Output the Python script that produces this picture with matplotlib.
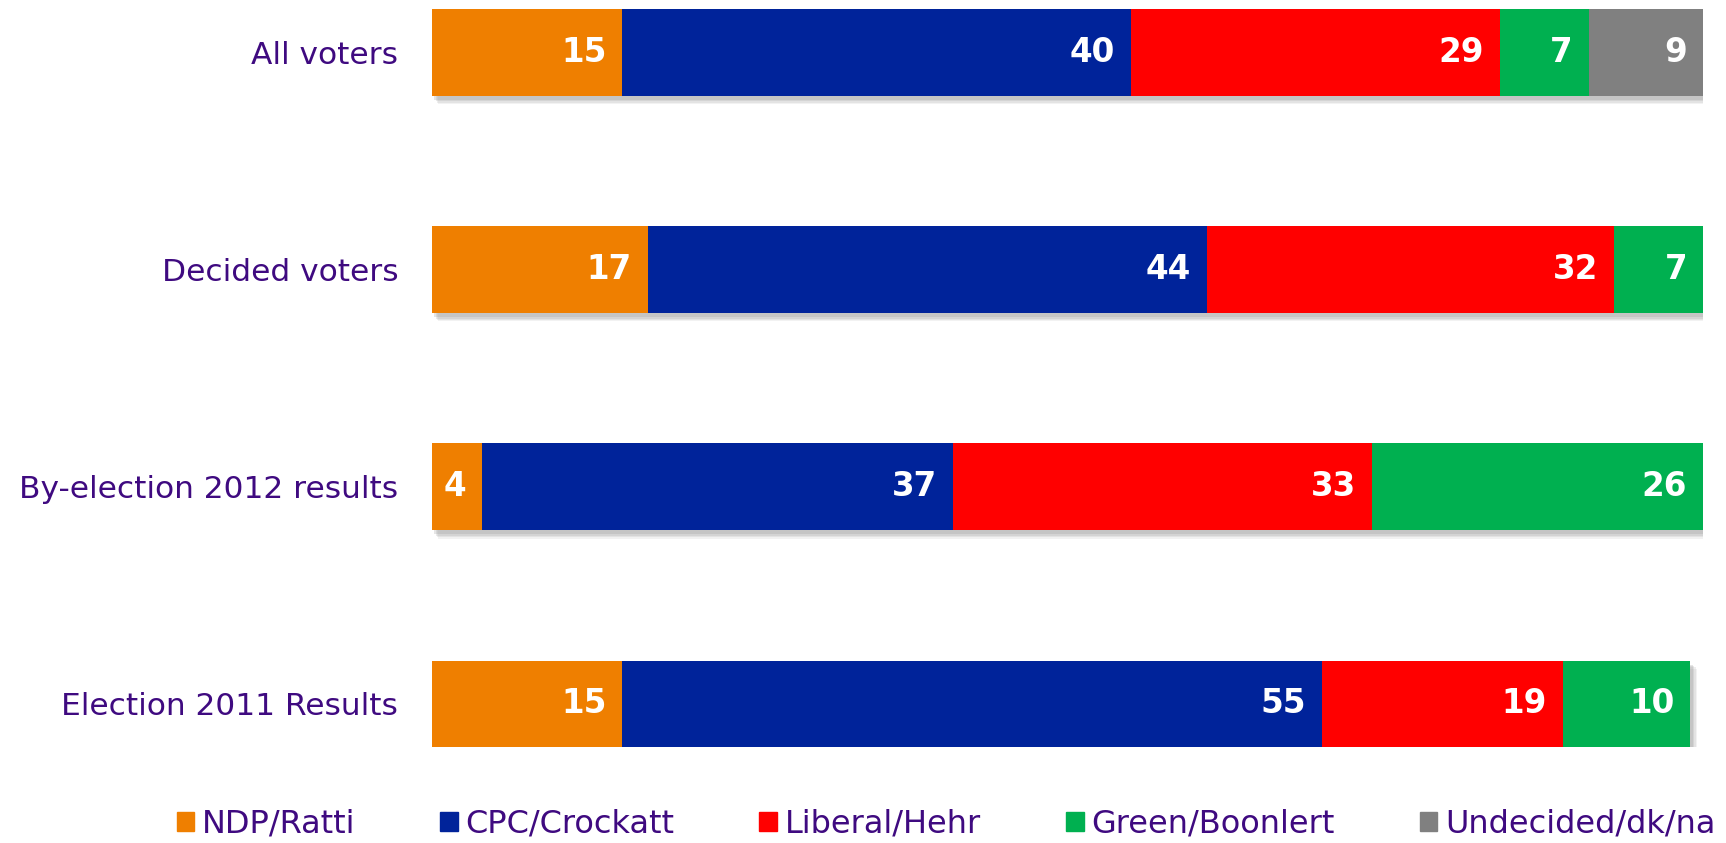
import matplotlib.pyplot as plt
import matplotlib.patheffects as pe
from matplotlib.patches import Rectangle
import numpy as np

plt.rcParams['font.family'] = ['DejaVu Sans']

# rows, top to bottom
groups = ['All voters', 'Decided voters', 'By-election 2012 results', 'Election 2011 Results']
parties = ['NDP/Ratti', 'CPC/Crockatt', 'Liberal/Hehr', 'Green/Boonlert', 'Undecided/dk/na']
colors = ['#EF7F00', '#00239A', '#FF0000', '#00B050', '#808080']

ndp = [15, 17, 4, 15]
cpc = [40, 44, 37, 55]
liberal = [29, 32, 33, 19]
green = [7, 7, 26, 10]
undecided = [9, 0, 0, 0]

series = [ndp, cpc, liberal, green, undecided]
text_col = '#3F0A80'

fig = plt.figure(figsize=(17.26, 8.43), dpi=100)
ax = fig.add_axes([431.5 / 1726, 0.1134, (1703 - 431.5) / 1726, 0.8864])

y = np.arange(len(groups))
left = np.zeros(len(groups))
# soft drop shadow, built from a few faint layers
shadow = [pe.SimplePatchShadow(offset=(5, -6), shadow_rgbFace='#999999', alpha=0.12),
          pe.SimplePatchShadow(offset=(4, -5), shadow_rgbFace='#999999', alpha=0.16),
          pe.SimplePatchShadow(offset=(3, -4), shadow_rgbFace='#999999', alpha=0.2),
          pe.SimplePatchShadow(offset=(2, -3), shadow_rgbFace='#999999', alpha=0.25),
          pe.Normal()]
for vals, col, name in zip(series, colors, parties):
    vals = np.array(vals, dtype=float)
    ax.barh(y, vals, left=left, height=0.4, color=col, label=name,
            path_effects=shadow)
    for i, v in enumerate(vals):
        if v > 0:
            ax.annotate(f'{int(v)}', xy=(left[i] + v, y[i]), xytext=(-11.5, 0),
                        textcoords='offset points', ha='right', va='center',
                        color='white', fontsize=23.5, fontweight='bold')
    left += vals

ax.set_xlim(0, 100)
ax.set_ylim(3.2, -0.24)
ax.set_yticks(y)
ax.set_yticklabels(groups, fontsize=22.5, color=text_col)
ax.tick_params(axis='y', length=0, pad=24)
ax.set_xticks([])
for s in ax.spines.values():
    s.set_visible(False)

handles = [Rectangle((0, 0), 1, 1, color=c) for c in colors]
fig.legend(handles, parties, loc='center', bbox_to_anchor=(0.548, 0.022), ncol=5,
           frameon=False, fontsize=23, labelcolor=text_col, handlelength=0.55,
           handleheight=0.55, handletextpad=0.24, columnspacing=2.66,
           borderaxespad=0)

fig.savefig('out.png', dpi=100)
